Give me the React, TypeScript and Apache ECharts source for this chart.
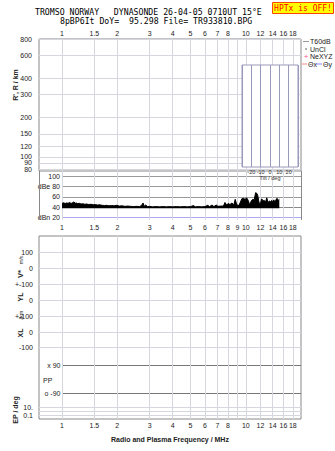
import React, { useEffect, useRef } from "react";
import * as echarts from "echarts";

const TITLE_LINE_1 = "TROMSO NORWAY   DYNASONDE 26-04-05 0710UT 15°E";
const TITLE_LINE_2 = "8pBP6It DoY=  95.298 File= TR933810.BPG";
const WARNING_TEXT = "HPTx is OFF!";
const X_AXIS_TITLE = "Radio and Plasma Frequency / MHz";

const FREQ_MIN = 0.75;
const FREQ_MAX = 19.95;
const FREQ_LABELS_OUTER = [1, 1.5, 2, 3, 4, 5, 6, 7, 8, 10, 12, 14, 16, 18];
const FREQ_LABELS_MID = [1, 1.5, 2, 3, 4, 5, 6, 7, 8, 9, 10, 12, 14, 16, 18];
const FREQ_GRID = [1, 1.5, 2, 3, 4, 5, 6, 7, 8, 9, 10, 12, 14, 16, 18];

const RANGE_MIN = 78;
const RANGE_MAX = 800;
const RANGE_TICKS = [80, 90, 100, 120, 150, 200, 300, 400, 600, 800];

const DB_MIN = 15;
const DB_MAX = 110;
const DB_TICKS = [20, 40, 60, 80, 100];
const DB_TICK_TEXT = ["dBn 20", "40", "60", "dBe 80", "100"];

const TILT_MIN = -30;
const TILT_MAX = 30;
const TILT_STEP = 10;

const LOWER_ROW_TEXT = ["100", "0", "+-100", "0", "+-100", "0", "-100", "10.", "", "0.1"];
const EP_ROW_TEXT = ["x 90", "o -90"];

const noiseFreq = [
  1.0, 1.02, 1.04, 1.06, 1.08, 1.1, 1.12, 1.14, 1.16, 1.18, 1.2, 1.22, 1.24, 1.27, 1.3, 1.33,
  1.36, 1.4, 1.44, 1.48, 1.52, 1.56, 1.6, 1.65, 1.7, 1.75, 1.8, 1.86, 1.92, 1.98, 2.05, 2.12,
  2.2, 2.28, 2.36, 2.45, 2.55, 2.65, 2.72, 2.76, 2.8, 2.85, 2.92, 3.0, 3.1, 3.25, 3.4, 3.55,
  3.7, 3.85, 4.0, 4.2, 4.4, 4.6, 4.8, 5.0, 5.2, 5.3, 5.5, 5.75, 6.0, 6.2, 6.35, 6.55, 6.7,
  6.9, 7.05, 7.3, 7.55, 7.7, 7.85, 8.0, 8.2, 8.4, 8.6, 8.75, 8.9, 9.1, 9.3, 9.5, 9.7, 9.9,
  10.1, 10.3, 10.5, 10.7, 10.9, 11.1, 11.3, 11.45, 11.6, 11.8, 12.0, 12.2, 12.4, 12.6, 12.8,
  13.0, 13.2, 13.4, 13.6, 13.8, 14.0, 14.2, 14.4, 14.6, 14.8, 15.0, 15.2,
];
const noiseDb = [
  47, 48.5, 47, 48, 47.5, 49, 47, 48.5, 50, 47.5, 48, 46.5, 47.5, 46, 46.5, 45.5,
  46, 45, 45.5, 44.5, 45, 44, 44.5, 43.5, 43, 43.5, 42.5, 43, 42.5, 43.5, 42, 42.5,
  41.5, 42, 41.5, 41, 41.5, 41, 44, 48, 41.5, 44, 41, 41.5, 40.5, 41, 40.5, 41,
  40.5, 41, 40.5, 41, 40.5, 41, 40.5, 41, 43, 40.5, 41, 40.5, 41, 43.5, 41, 44, 41,
  44, 41.5, 42, 42, 49, 44, 47, 45, 48, 44, 55, 46, 42, 48, 56, 57, 55,
  58, 53, 44, 52, 55, 54, 68, 67, 63, 48, 47, 56, 52, 53, 50,
  58, 48, 52, 50, 53, 51, 54, 49, 55, 57, 53, 55,
];

const lg = (f: number) => Math.log10(f);
const fmtFreq = (v: number) => String(parseFloat(Math.pow(10, v).toFixed(2)));
const fmtRange = (v: number) => String(Math.round(Math.pow(10, v)));

const FONT = "'Liberation Sans', Arial, sans-serif";
const MONO = "'DejaVu Sans Mono', monospace";
const LIGHT = "#d6d6de";
const BORDER = "#888";
const TEXT = "#222";

// layout (pixel offsets inside lower panel)
const LOWER_ROW_Y = [16, 32, 48, 64, 80, 96, 111, 171, 175, 179];
const EP_ROW_Y = [129, 157];

function freqAxis(gridIndex: number, labels: number[] | null, position: string, margin: number, startAtOne = false) {
  return {
    type: "value",
    gridIndex,
    position,
    min: startAtOne ? 0 : lg(FREQ_MIN),
    max: lg(FREQ_MAX),
    axisLine: { show: false },
    axisTick: { show: false, customValues: FREQ_GRID.map(lg) },
    splitLine: { show: true, lineStyle: { color: LIGHT, width: 1 } },
    axisLabel: labels
      ? {
          show: true,
          customValues: labels.map(lg),
          formatter: fmtFreq,
          fontSize: 7,
          fontFamily: FONT,
          color: TEXT,
          margin,
          hideOverlap: false,
          showMinLabel: true,
          showMaxLabel: true,
        }
      : { show: false },
  };
}

function rangeAxis(labels: number[], withLines: boolean) {
  return {
    type: "value",
    gridIndex: 0,
    position: "left",
    offset: 0,
    min: lg(RANGE_MIN),
    max: lg(RANGE_MAX),
    axisLine: { show: false },
    axisTick: { show: false, customValues: (withLines ? RANGE_TICKS : labels).map(lg) },
    splitLine: { show: withLines, lineStyle: { color: LIGHT, width: 1 } },
    axisLabel: {
      customValues: labels.map(lg),
      formatter: fmtRange,
      fontSize: 7,
      fontFamily: FONT,
      color: TEXT,
      margin: 7,
      hideOverlap: false,
      showMinLabel: true,
      showMaxLabel: true,
    },
  };
}

function lowerAxis(rows: number[], withLines: boolean) {
  return {
    type: "value",
    gridIndex: 2,
    position: "left",
    offset: 0,
    min: 0,
    max: 183,
    inverse: true,
    axisLine: { show: false },
    axisTick: { show: false, customValues: withLines ? LOWER_ROW_Y : rows },
    splitLine: { show: withLines, lineStyle: { color: LIGHT, width: 1 } },
    axisLabel: {
      customValues: rows,
      formatter: (v: number) => LOWER_ROW_TEXT[LOWER_ROW_Y.indexOf(v)] ?? "",
      fontSize: 7,
      fontFamily: FONT,
      color: TEXT,
      margin: 6,
      hideOverlap: false,
      showMinLabel: true,
      showMaxLabel: true,
    },
  };
}

function txt(text: string, x: number, y: number, opts: any = {}) {
  const align = opts.align || "left";
  return {
    type: "text",
    x,
    y,
    rotation: opts.rotation || 0,
    z: 50,
    style: {
      text,
      font: opts.font || `7px ${FONT}`,
      fill: opts.fill || TEXT,
      align,
      textAlign: align,
      verticalAlign: "middle",
      textVerticalAlign: "middle",
    },
  };
}

function seg(x1: number, y1: number, x2: number, y2: number, stroke: string) {
  return { type: "line", z: 50, shape: { x1, y1, x2, y2 }, style: { stroke, lineWidth: 1 } };
}

export default function App() {
  const ref = useRef<HTMLDivElement>(null);
  useEffect(() => {
    document.body.style.margin = "0";
    const chart = echarts.init(ref.current!, null, { renderer: "svg" });
    const rangeEven = RANGE_TICKS.filter((_, i) => i % 2 === 0);
    const rangeOdd = RANGE_TICKS.filter((_, i) => i % 2 === 1);
    const lowerEven = LOWER_ROW_Y.filter((_, i) => i % 2 === 0);
    const lowerOdd = LOWER_ROW_Y.filter((_, i) => i % 2 === 1);
    const option: any = {
      animation: false,
      backgroundColor: "#fff",
      grid: [
        { left: 39, top: 39, width: 262, height: 132, show: true, borderColor: BORDER, borderWidth: 1, backgroundColor: "transparent" },
        { left: 62, top: 171, width: 239, height: 49, show: false },
        { left: 39, top: 236, width: 262, height: 183, show: true, borderColor: BORDER, borderWidth: 1, backgroundColor: "transparent" },
        { left: 62, top: 236, width: 239, height: 183, show: false },
        { left: 242, top: 65, width: 56, height: 102, show: true, borderColor: "#9999bb", borderWidth: 1, backgroundColor: "#fff", z: 10 },
      ],
      xAxis: [
        freqAxis(0, FREQ_LABELS_OUTER, "top", 2.5),
        freqAxis(1, FREQ_LABELS_MID, "bottom", 4, true),
        freqAxis(2, FREQ_LABELS_OUTER, "bottom", 3),
        { type: "value", gridIndex: 3, min: 0, max: lg(FREQ_MAX), show: false },
        {
          type: "value",
          gridIndex: 4,
          min: TILT_MIN,
          max: TILT_MAX,
          interval: TILT_STEP,
          z: 11,
          axisLine: { show: false },
          axisTick: { show: false },
          splitLine: { show: true, lineStyle: { color: "#9999bb", width: 1 } },
          axisLabel: { fontSize: 5.5, fontFamily: FONT, color: "#333", margin: 1.5, showMinLabel: false, showMaxLabel: false, hideOverlap: false },
          name: "Tilt / deg",
          nameLocation: "middle",
          nameGap: 6.5,
          nameTextStyle: { fontSize: 5.5, fontFamily: FONT, color: "#333" },
        },
      ],
      yAxis: [
        rangeAxis(rangeEven, true),
        {
          type: "value",
          gridIndex: 1,
          min: DB_MIN,
          max: DB_MAX,
          axisLine: { show: false },
          axisTick: { show: false, customValues: DB_TICKS },
          splitLine: { show: true, lineStyle: { color: ["#aaaaf0", "#888", "#999", "#999", "#999"], width: 1 } },
          axisLabel: {
            customValues: DB_TICKS,
            formatter: (v: number) => DB_TICK_TEXT[DB_TICKS.indexOf(v)] ?? String(v),
            fontSize: 7,
            fontFamily: FONT,
            color: TEXT,
            margin: 2,
            hideOverlap: false,
            showMinLabel: true,
            showMaxLabel: true,
          },
        },
        lowerAxis(lowerEven, true),
        {
          type: "value",
          gridIndex: 3,
          min: 0,
          max: 183,
          inverse: true,
          axisLine: { show: false },
          axisTick: { show: false, customValues: EP_ROW_Y },
          splitLine: { show: true, lineStyle: { color: "#777", width: 1 } },
          axisLabel: {
            customValues: EP_ROW_Y,
            formatter: (v: number) => EP_ROW_TEXT[EP_ROW_Y.indexOf(v)] ?? "",
            fontSize: 7,
            fontFamily: FONT,
            color: TEXT,
            margin: 1.5,
            hideOverlap: false,
            showMinLabel: true,
            showMaxLabel: true,
          },
        },
        { type: "value", gridIndex: 4, min: 0, max: 1, show: false },
        rangeAxis(rangeOdd, false),
        lowerAxis(lowerOdd, false),
      ],
      series: [
        {
          type: "line",
          name: "noise",
          xAxisIndex: 1,
          yAxisIndex: 1,
          data: noiseFreq.map((f, i) => [lg(f), noiseDb[i]]),
          symbol: "none",
          lineStyle: { color: "#000", width: 1 },
          areaStyle: { color: "#000", opacity: 1, origin: 38 },
          z: 5,
        },
      ],
      graphic: [
        txt(TITLE_LINE_1, 35, 12.2, { font: `8.2px ${MONO}`, fill: "#000" }),
        txt(TITLE_LINE_2, 60, 21, { font: `8.2px ${MONO}`, fill: "#000" }),
        { type: "rect", z: 50, shape: { x: 272.5, y: 2.5, width: 61, height: 11 }, style: { fill: "#ffff00", stroke: "#ff4400", lineWidth: 1 } },
        txt(WARNING_TEXT, 303, 8.3, { font: `8px ${MONO}`, fill: "#ff0000", align: "center" }),
        // legend
        seg(303, 41.5, 309, 41.5, "#999"),
        txt("T60dB", 310, 41.5),
        { type: "circle", z: 50, shape: { cx: 306, cy: 49, r: 0.7 }, style: { fill: "#333" } },
        txt("UnCl", 310, 49),
        txt("+", 306, 56.5, { font: `8px ${FONT}`, fill: "#ff5599", align: "center" }),
        txt("NeXYZ", 310, 56.5),
        seg(302, 64, 307, 64, "#ff8888"),
        txt("Θx", 308, 64),
        seg(316, 64, 322, 64, "#8888ff"),
        txt("Θy", 323, 64),
        // axis titles
        txt("R', R / km", 15, 85, { font: `bold 7px ${FONT}`, align: "center", rotation: Math.PI / 2 }),
        txt("V*", 20.5, 274, { font: `bold 7.5px ${FONT}`, align: "center", rotation: Math.PI / 2 }),
        txt("m/s", 20.5, 260, { font: `5px ${FONT}`, align: "center", rotation: Math.PI / 2 }),
        txt("YL", 20.5, 297, { font: `bold 7px ${FONT}`, align: "center", rotation: Math.PI / 2 }),
        txt("/km", 20.5, 315, { font: `5.5px ${FONT}`, align: "center", rotation: Math.PI / 2 }),
        txt("XL", 20.5, 333, { font: `bold 7px ${FONT}`, align: "center", rotation: Math.PI / 2 }),
        txt("EP / deg", 15, 410, { font: `bold 7px ${FONT}`, align: "center", rotation: Math.PI / 2 }),
        txt("PP", 43, 380, { font: `7px ${FONT}` }),
        txt(X_AXIS_TITLE, 170, 439.5, { font: `bold 7px ${FONT}`, align: "center" }),
        // dB panel spines
        seg(39.5, 171, 39.5, 220, BORDER),
        seg(301.5, 171, 301.5, 220, BORDER),
      ],
    };
    chart.setOption(option);
    return () => chart.dispose();
  }, []);
  return (
    <div
      ref={ref}
      style={{ width: 335, height: 451, position: "absolute", left: 0, top: 0, background: "#fff" }}
    />
  );
}
